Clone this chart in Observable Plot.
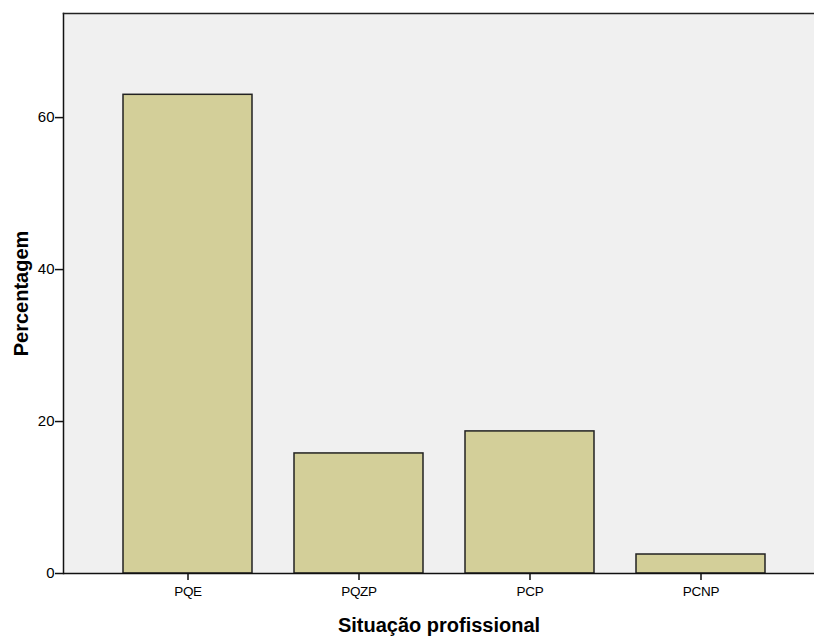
<!DOCTYPE html>
<html>
<head>
<meta charset="utf-8">
<script src="https://cdn.jsdelivr.net/npm/d3@7"></script>
<script src="https://cdn.jsdelivr.net/npm/@observablehq/plot@0.6"></script>
<style>
  body { margin: 0; background: #fff; }
  svg { font-family: "Liberation Sans", Arial, sans-serif; }
  g[aria-label="y-axis tick label"], g[aria-label="y-axis tick label"] text { font-size: 15px !important; }
  g[aria-label="x-axis tick label"], g[aria-label="x-axis tick label"] text { font-size: 13.5px !important; letter-spacing: -0.3px; }
</style>
</head>
<body>
<div id="chart"></div>
<script>
const categories = ["PQE", "PQZP", "PCP", "PCNP"];
const values = [63.0, 15.8, 18.7, 2.5];
const yTicks = [0, 20, 40, 60];
const xTitle = "Situação profissional";
const yTitle = "Percentagem";

const data = categories.map((c, i) => ({cat: c, pct: values[i]}));

const chart = Plot.plot({
  width: 814,
  height: 637,
  marginTop: 13,
  marginBottom: 64,
  marginLeft: 63,
  marginRight: 0,
  style: {fontFamily: "'Liberation Sans', Arial, sans-serif", background: "#fff", color: "#000"},
  x: {type: "band", domain: categories, range: [63, 824.4], paddingInner: 0.2456, paddingOuter: 0.349, align: 0.5},
  y: {domain: [0, 73.7]},
  marks: [
    Plot.frame({fill: "#f0f0f0", stroke: null}),
    Plot.barY(data, {x: "cat", y: "pct", fill: "#d3cf99", stroke: "#222", strokeWidth: 1.5}),
    Plot.ruleY([0], {stroke: "#111", strokeWidth: 1.5}),
    Plot.frame({anchor: "left", stroke: "#111", strokeWidth: 1.5}),
    Plot.frame({anchor: "top", stroke: "#222", strokeWidth: 1.5}),
    Plot.axisY({ticks: yTicks, tickSize: 8, tickPadding: 1, label: null, stroke: "#111", strokeWidth: 1.5}),
    Plot.axisX({tickSize: 7, tickPadding: 6, label: null, stroke: "#111", strokeWidth: 1.5}),
    Plot.text([yTitle], {frameAnchor: "left", dx: -42, rotate: -90, textAnchor: "middle", lineAnchor: "middle", fontSize: 20, fontWeight: "bold", fill: "#000"}),
    Plot.text([xTitle], {frameAnchor: "bottom", dy: 52, textAnchor: "middle", lineAnchor: "middle", fontSize: 20, fontWeight: "bold", fill: "#000"})
  ]
});
document.getElementById("chart").appendChild(chart);
</script>
</body>
</html>
